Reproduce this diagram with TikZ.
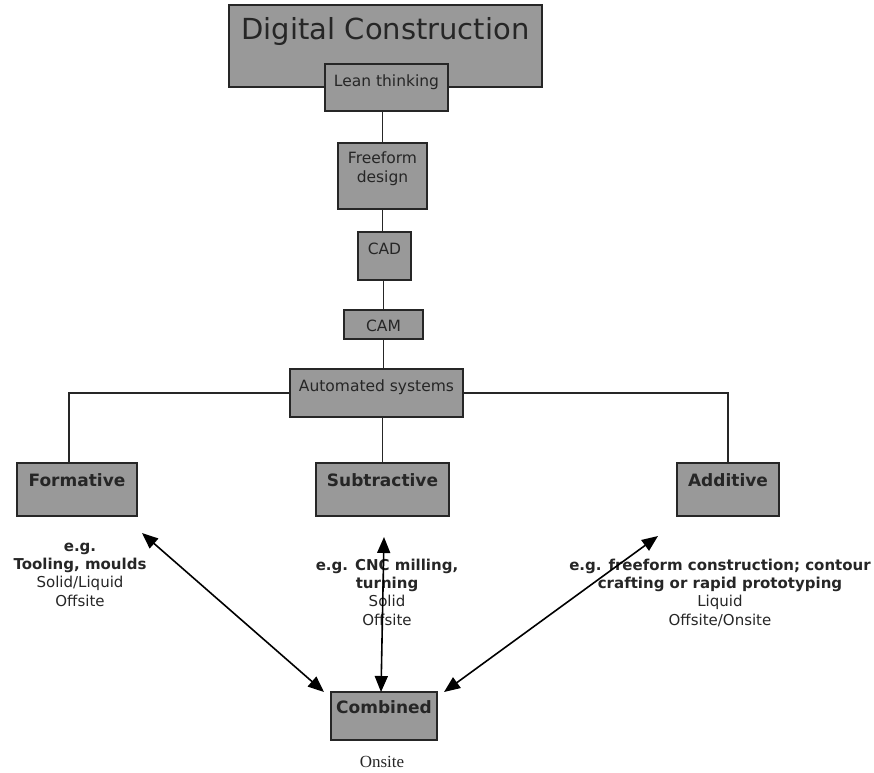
\documentclass[tikz,border=0pt]{standalone}
\usepackage{fontspec}
\setmainfont{DejaVu Sans}
\newfontfamily\serifnote{Liberation Serif}
\usepackage{xcolor}
\usepackage{tikz}
\usetikzlibrary{arrows.meta, positioning}
\tikzset{
    box/.style={rectangle, draw=black!85, line width=1.6pt, fill=black!40, text=black!85, inner xsep=0pt, inner ysep=0pt, align=center, font=\fontsize{15.5}{19}\selectfont},
    boldbox/.style={box, font=\bfseries\fontsize{17}{20}\selectfont},
    note/.style={align=center, inner sep=0pt, text=black!85, font=\fontsize{15}{18.2}\selectfont},
    link/.style={line width=1.8pt, draw=black!85},
    arrow/.style={{Triangle[length=16pt,width=13pt]}-{Triangle[length=16pt,width=13pt]}, line width=1.6pt}
}
\begin{document}
\begin{tikzpicture}[x=1pt, y=-1pt]
            \useasboundingbox (0,0) rectangle (874,772);
            \node (title) [box, minimum width=313, text height=34, text depth=48, font=\fontsize{29}{34}\selectfont] at (385.5,46) {Digital Construction};
            \node (lean) [box, minimum width=123, text height=22, text depth=25] at (386.5,87.5) {Lean thinking};
            \node (free) [box, minimum width=89, text height=39, text depth=27] at (382.5,176) {Freeform\\design};
            \node (cad) [box, minimum width=53, text height=22, text depth=26] at (384.5,256) {CAD};
            \node (cam) [box, minimum width=79, text height=21, text depth=8] at (383.5,324.5) {CAM};
            \node (auto) [box, minimum width=173, text height=22, text depth=26] at (376.5,393) {Automated systems};
            \node (form) [boldbox, minimum width=120, text height=23, text depth=30] at (77,489.5) {Formative};
            \node (subt) [boldbox, minimum width=133, text height=23, text depth=30] at (382.5,489.5) {Subtractive};
            \node (addi) [boldbox, minimum width=102, text height=23, text depth=30] at (728,489.5) {Additive};
            \node (comb) [boldbox, minimum width=106, text height=21, text depth=27] at (384,716) {Combined};
            
            % examples under the three processes
            \node (formnote) [note, anchor=base] at (80,606) {\textbf{e.g.}\\\textbf{Tooling, moulds}\\Solid/Liquid\\Offsite};
            \node (subtnote) [note, anchor=base] at (387,625) {\textbf{e.g. CNC milling,}\\\textbf{turning}\\Solid\\Offsite};
            \node (addinote) [note, anchor=base] at (720,625) {\textbf{e.g. freeform construction; contour}\\\textbf{crafting or rapid prototyping}\\Liquid\\Offsite/Onsite};
            \node (onsite) [anchor=base, inner sep=0pt, text=black!85, font=\serifnote\fontsize{17}{20}\selectfont] at (382,767) {Onsite};
            
            \draw[link] (free.north) -- (free.north |- lean.south);
            \draw[link] (free.south) -- (free.south |- cad.north);
            \draw[link] (cam.north) -- (cam.north |- cad.south);
            \draw[link] (cam.south) -- (cam.south |- auto.north);
            \draw[link] (auto.south -| subt.north) -- (subt.north);
            \draw[link] (auto.west) -| ([xshift=-8pt]form.north);
            \draw[link] (auto.east) -| (addi.north);
            
            \coordinate (fa) at (142,533);
            \coordinate (fb) at (324,692);
            \coordinate (sa) at (384,537);
            \coordinate (sb) at (381,692);
            \coordinate (aa) at (658,536);
            \coordinate (ab) at (444,692);
            \draw[arrow] (fa) -- (fb);
            \draw[arrow] (sa) -- (sb);
            \draw[arrow] (aa) -- (ab);
        \end{tikzpicture}
\end{document}
